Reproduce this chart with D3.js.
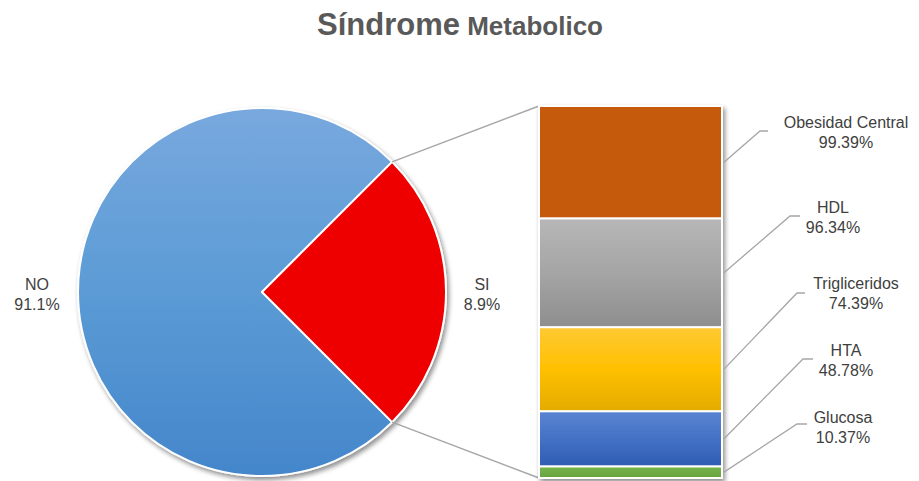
<!DOCTYPE html>
<html>
<head>
<meta charset="utf-8">
<script src="https://cdn.jsdelivr.net/npm/d3@7"></script>
<style>
  body { margin: 0; background: #fff; }
  text { font-family: "Liberation Sans", Arial, sans-serif; fill: #404040; }
</style>
</head>
<body>
<div id="chart"></div>
<script>
// pie: categories, shown labels and drawn angular share (pie-of-bar)
var pieCats = ["NO", "SI"];
var pieLabels = ["91.1%", "8.9%"];
var pieShare = [75, 25];

// bar (breakdown of SI), top to bottom
var barCats = ["Obesidad Central", "HDL", "Trigliceridos", "HTA", "Glucosa"];
var barValues = [99.39, 96.34, 74.39, 48.78, 10.37];
var barLabels = ["99.39%", "96.34%", "74.39%", "48.78%", "10.37%"];

var width = 919, height = 481;
var cx = 262, cy = 292, r = 184;   // pie centre / radius
var barX0 = 539, barX1 = 722, barTop = 106, barBottom = 478;

// hand-placed label spots (text centre, baseline, elbow, elbow end)
var labelPos = [
    {x: 846, y: 128, kx: 760, ky: 131, hx: 768},
    {x: 833, y: 213, kx: 790, ky: 216, hx: 800},
    {x: 856, y: 289, kx: 797, ky: 293, hx: 805},
    {x: 846, y: 356, kx: 803, ky: 359, hx: 813},
    {x: 843, y: 423, kx: 797, ky: 424, hx: 807}
];

var svg = d3.select("#chart").append("svg")
    .attr("width", width)
    .attr("height", height);

var defs = svg.append("defs");

function vgrad(id, stops) {
    var g = defs.append("linearGradient").attr("id", id)
        .attr("x1", 0).attr("y1", 0).attr("x2", 0).attr("y2", 1);
    stops.forEach(function (s) {
        g.append("stop").attr("offset", s[0]).attr("stop-color", s[1]);
    });
}
vgrad("g-no", [[0, "#78a8de"], [0.5, "#5b9bd5"], [1, "#4486cb"]]);
vgrad("g-si", [[0, "#ee0000"], [1, "#ee0000"]]);
vgrad("g-b0", [[0, "#c55a11"], [1, "#c55a11"]]);
vgrad("g-b1", [[0, "#b7b7b7"], [0.5, "#a5a5a5"], [1, "#8e8e8e"]]);
vgrad("g-b2", [[0, "#ffc934"], [0.5, "#ffc000"], [1, "#e4ab00"]]);
vgrad("g-b3", [[0, "#5b84d2"], [0.5, "#4472c4"], [1, "#2f5cb4"]]);
vgrad("g-b4", [[0, "#76b34c"], [1, "#68a33f"]]);

var shadow = defs.append("filter").attr("id", "shadow")
    .attr("x", "-10%").attr("y", "-10%").attr("width", "130%").attr("height", "130%");
shadow.append("feGaussianBlur").attr("in", "SourceAlpha").attr("stdDeviation", 2.5);
shadow.append("feOffset").attr("dx", 2).attr("dy", 3).attr("result", "blur");
shadow.append("feComponentTransfer").append("feFuncA").attr("type", "linear").attr("slope", 0.45);
var merge = shadow.append("feMerge");
merge.append("feMergeNode");
merge.append("feMergeNode").attr("in", "SourceGraphic");

// title
var title = svg.append("text")
    .attr("x", 460)
    .attr("y", 35)
    .attr("text-anchor", "middle")
    .style("font-weight", "bold")
    .style("fill", "#595959");
title.append("tspan").style("font-size", "31px").text("Síndrome");
title.append("tspan").style("font-size", "26px").text(" Metabolico");

// pie
var pie = d3.pie().sort(null)
    .startAngle(Math.PI * 3 / 4)
    .endAngle(Math.PI * 3 / 4 + 2 * Math.PI);
var arcs = pie(pieShare);
var arc = d3.arc().innerRadius(0).outerRadius(r);

var pieG = svg.append("g")
    .attr("transform", "translate(" + cx + "," + cy + ")");

pieG.append("g").attr("filter", "url(#shadow)")
    .selectAll("path")
    .data(arcs)
    .enter().append("path")
    .attr("d", arc)
    .attr("fill", function (d, i) { return i === 0 ? "url(#g-no)" : "url(#g-si)"; })
    .attr("stroke", "#fff")
    .attr("stroke-width", 2)
    .attr("stroke-linejoin", "round");

// connector lines from the SI slice to the bar
var si = arcs[1];
function onArc(a) {
    return [cx + r * Math.sin(a), cy - r * Math.cos(a)];
}
var yBar = d3.scaleLinear()
    .domain([0, d3.sum(barValues)])
    .range([barBottom, barTop]);

var p1 = onArc(si.startAngle), p2 = onArc(si.endAngle);
svg.append("line")
    .attr("x1", p1[0]).attr("y1", p1[1])
    .attr("x2", barX0).attr("y2", yBar(d3.sum(barValues)))
    .attr("stroke", "#a6a6a6").attr("stroke-width", 1.5);
svg.append("line")
    .attr("x1", p2[0]).attr("y1", p2[1])
    .attr("x2", barX0).attr("y2", yBar(0))
    .attr("stroke", "#a6a6a6").attr("stroke-width", 1.5);

// pie labels
var pieLabelX = [37, 482];
pieCats.forEach(function (c, i) {
    var t = svg.append("text")
        .attr("text-anchor", "middle")
        .style("font-size", "16px");
    t.append("tspan").attr("x", pieLabelX[i]).attr("y", 290).text(c);
    t.append("tspan").attr("x", pieLabelX[i]).attr("y", 310).text(pieLabels[i]);
});

// stacked bar, bottom = last category
var segs = [];
var acc = 0;
for (var i = barValues.length - 1; i >= 0; i--) {
    segs.push({i: i, y0: acc, y1: acc + barValues[i]});
    acc += barValues[i];
}

svg.append("g").attr("filter", "url(#shadow)")
    .selectAll("rect")
    .data(segs)
    .enter().append("rect")
    .attr("x", barX0)
    .attr("width", barX1 - barX0)
    .attr("y", function (d) { return yBar(d.y1); })
    .attr("height", function (d) { return yBar(d.y0) - yBar(d.y1); })
    .attr("fill", function (d) { return "url(#g-b" + d.i + ")"; })
    .attr("stroke", "#fff")
    .attr("stroke-width", 2);

// bar labels with leader lines
segs.forEach(function (d) {
    var lp = labelPos[d.i];
    var my = (yBar(d.y0) + yBar(d.y1)) / 2;
    svg.append("polyline")
        .attr("points", [[barX1 + 2, my], [lp.kx, lp.ky], [lp.hx, lp.ky]].join(" "))
        .attr("fill", "none")
        .attr("stroke", "#a6a6a6")
        .attr("stroke-width", 1.3);
    var t = svg.append("text")
        .attr("text-anchor", "middle")
        .style("font-size", "16px");
    t.append("tspan").attr("x", lp.x).attr("y", lp.y).text(barCats[d.i]);
    t.append("tspan").attr("x", lp.x).attr("y", lp.y + 20).text(barLabels[d.i]);
});
</script>
</body>
</html>
